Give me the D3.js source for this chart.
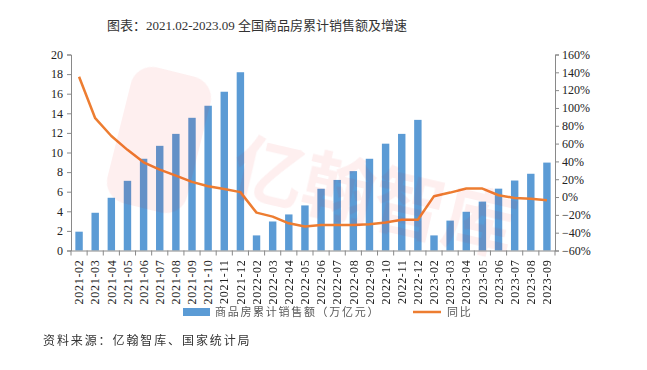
<!DOCTYPE html>
<html>
<head>
<meta charset="utf-8">
<script src="https://cdn.jsdelivr.net/npm/d3@7"></script>
<style>
  body { margin: 0; background: #fff; }
  svg text { font-family: "Liberation Serif", "Noto Sans CJK SC", serif; }
</style>
</head>
<body>
<svg id="chart" width="647" height="370"></svg>
<script>
/*
Data
*/
var months = ["2021-02","2021-03","2021-04","2021-05","2021-06","2021-07","2021-08","2021-09","2021-10","2021-11","2021-12",
              "2022-02","2022-03","2022-04","2022-05","2022-06","2022-07","2022-08","2022-09","2022-10","2022-11","2022-12",
              "2023-02","2023-03","2023-04","2023-05","2023-06","2023-07","2023-08","2023-09"];
// cumulative sales, trillion yuan
var sales = [1.92, 3.85, 5.38, 7.11, 9.36, 10.68, 11.9, 13.54, 14.77, 16.2, 18.19,
             1.54, 2.96, 3.68, 4.6, 6.3, 7.2, 8.1, 9.36, 10.9, 11.9, 13.33,
             1.54, 3.05, 3.95, 4.99, 6.31, 7.14, 7.83, 8.97];
// year-on-year growth, %
var growth = [135, 88.5, 68.5, 53, 39, 30.7, 24, 17, 12.2, 9, 5.5,
              -17.5, -22, -29.5, -33, -31.5, -31.5, -31.5, -30.5, -28.5, -25.5, -25.5,
              1, 5, 9.5, 9.5, 2, -1, -2, -3.5];
var leftTicks = [0, 2, 4, 6, 8, 10, 12, 14, 16, 18, 20];
var rightTicks = [-60, -40, -20, 0, 20, 40, 60, 80, 100, 120, 140, 160];

var svg = d3.select("#chart");
var plotLeft = 71, plotRight = 555, plotTop = 54.5, plotBottom = 250.5;

var x = d3.scaleBand().domain(months).range([plotLeft, plotRight]).padding(0);
var yL = d3.scaleLinear().domain([0, 20]).range([plotBottom, plotTop]);
var yR = d3.scaleLinear().domain([-60, 160]).range([plotBottom, plotTop]);

/*
Title
*/
svg.append("text")
   .attr("x", 257).attr("y", 30)
   .attr("text-anchor", "middle")
   .style("font-size", "13px")
   .style("fill", "#333")
   .text("图表：2021.02-2023.09 全国商品房累计销售额及增速");

/*
Bars
*/
var barW = x.bandwidth() * 0.46;
svg.append("g").selectAll("rect")
   .data(sales)
   .enter()
   .append("rect")
   .attr("x", function(d, i){ return x(months[i]) + (x.bandwidth() - barW) / 2; })
   .attr("y", function(d){ return yL(d); })
   .attr("width", barW)
   .attr("height", function(d){ return plotBottom - yL(d); })
   .style("fill", "#5b9bd5");

/*
Growth line
*/
var line = d3.line()
             .x(function(d, i){ return x(months[i]) + x.bandwidth() / 2; })
             .y(function(d){ return yR(d); });
svg.append("path")
   .datum(growth)
   .attr("d", line)
   .style("fill", "none")
   .style("stroke", "#ed7d31")
   .style("stroke-width", 2.5)
   .style("stroke-linejoin", "round");

/*
Watermark
*/
var wm = svg.append("g").style("opacity", 0.07);
wm.append("rect")
  .attr("x", 118).attr("y", 70).attr("width", 82).attr("height", 140)
  .attr("rx", 22)
  .attr("transform", "rotate(14,159,140)")
  .style("fill", "#e8141c");
wm.append("text")
  .attr("x", 228).attr("y", 190)
  .attr("transform", "rotate(13,228,190)")
  .style("font-family", "Noto Sans CJK SC")
  .style("font-weight", "bold")
  .style("font-size", "72px")
  .style("fill", "#e8141c")
  .text("亿翰智库");

/*
Axes
*/
var axisColor = "#898989";
var gL = svg.append("g")
            .attr("transform", "translate(" + plotLeft + ",0)")
            .call(d3.axisLeft(yL).tickValues(leftTicks).tickSize(4).tickPadding(4));
var gR = svg.append("g")
            .attr("transform", "translate(" + plotRight + ",0)")
            .call(d3.axisRight(yR).tickValues(rightTicks).tickSize(4).tickPadding(3)
                    .tickFormat(function(d){ return (d < 0 ? "\u2212" + (-d) : d) + "%"; }));
var gX = svg.append("g")
            .attr("transform", "translate(0," + plotBottom + ")")
            .call(d3.axisBottom(x).tickSize(0).tickPadding(0));

// tick marks at band edges
var edges = months.map(function(m){ return x(m); }).concat([plotRight]);
gX.selectAll(".edge")
  .data(edges)
  .enter()
  .append("line")
  .attr("class", "edge")
  .attr("x1", function(d){ return d; }).attr("x2", function(d){ return d; })
  .attr("y1", 0).attr("y2", 5);

[gL, gR, gX].forEach(function(g){
  g.selectAll("path.domain").style("stroke", axisColor);
  g.selectAll("line").style("stroke", axisColor);
  g.selectAll("text")
   .style("font-family", "Liberation Serif, serif")
   .style("font-size", "12px")
   .style("fill", "#222");
});

gX.selectAll(".tick text")
  .attr("transform", "rotate(-90)")
  .attr("x", -9).attr("y", 0).attr("dy", "0.35em")
  .style("text-anchor", "end")
  .style("letter-spacing", "0.7px");

/*
Legend
*/
var lg = svg.append("g");
lg.append("rect")
  .attr("x", 183).attr("y", 308).attr("width", 27).attr("height", 8)
  .style("fill", "#5b9bd5");
lg.append("text")
  .attr("x", 215).attr("y", 316)
  .style("font-size", "11px")
  .style("letter-spacing", "1.7px")
  .style("fill", "#595959")
  .text("商品房累计销售额（万亿元）");
lg.append("line")
  .attr("x1", 413).attr("x2", 441).attr("y1", 312).attr("y2", 312)
  .style("stroke", "#ed7d31").style("stroke-width", 2.5);
lg.append("text")
  .attr("x", 447).attr("y", 316)
  .style("font-size", "11px")
  .style("letter-spacing", "1.7px")
  .style("fill", "#595959")
  .text("同比");

/*
Source
*/
svg.append("text")
   .attr("x", 43).attr("y", 345)
   .style("font-size", "12px")
   .style("letter-spacing", "1.9px")
   .style("fill", "#333")
   .text("资料来源：亿翰智库、国家统计局");
</script>
</body>
</html>
